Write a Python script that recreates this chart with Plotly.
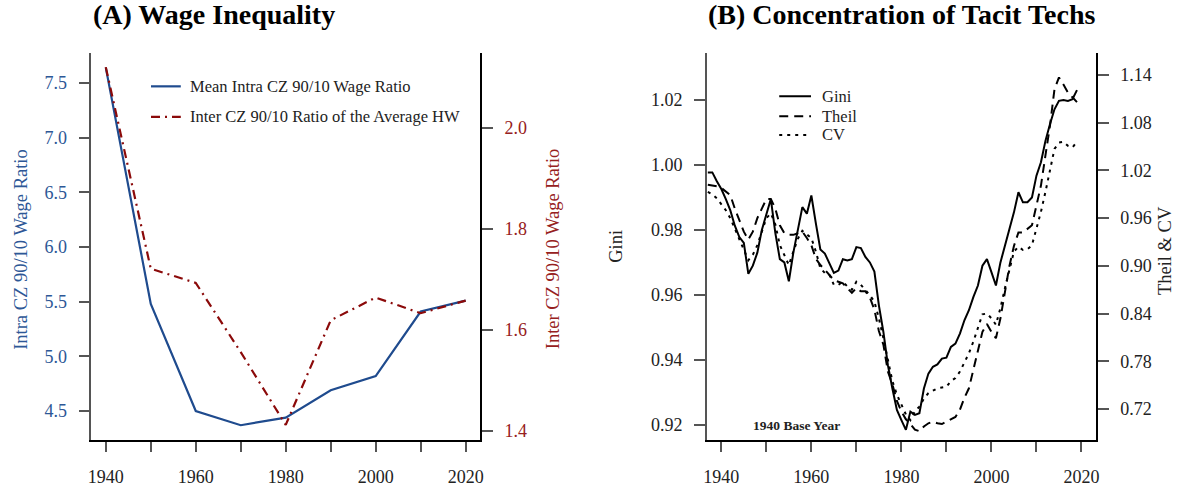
import plotly.graph_objects as go

# ---------------- Data ----------------
decades = [1940, 1950, 1960, 1970, 1980, 1990, 2000, 2010, 2020]
intra_cz = [7.64, 5.48, 4.50, 4.37, 4.44, 4.69, 4.82, 5.41, 5.51]
inter_cz = [2.12, 1.721, 1.693, 1.556, 1.412, 1.619, 1.664, 1.633, 1.658]

years = list(range(1937, 2020))
gini = [0.9977, 0.9977, 0.9950, 0.9926, 0.9895, 0.9860, 0.9813, 0.9778, 0.9760, 0.9665,
        0.9690, 0.9730, 0.9800, 0.9850, 0.9895, 0.9790, 0.9710, 0.9700, 0.9642, 0.9730,
        0.9800, 0.9870, 0.9850, 0.9906, 0.9820, 0.9740, 0.9727, 0.9700, 0.9668, 0.9675,
        0.9710, 0.9706, 0.9710, 0.9747, 0.9744, 0.9717, 0.9700, 0.9672, 0.9568, 0.9486,
        0.9384, 0.9312, 0.9246, 0.9215, 0.9185, 0.9241, 0.9231, 0.9236, 0.9312, 0.9358,
        0.9379, 0.9386, 0.9404, 0.9407, 0.9440, 0.9450, 0.9481, 0.9522, 0.9553, 0.9594,
        0.9629, 0.9690, 0.9710, 0.9670, 0.9629, 0.9700, 0.9756, 0.9803, 0.9854, 0.9916,
        0.9885, 0.9885, 0.9900, 0.9967, 1.0008, 1.0074, 1.0125, 1.0171, 1.0197, 1.0200,
        1.0197, 1.0202, 1.0230]
theil = [1.002, 1.001, 1.000, 0.998, 0.994, 0.989, 0.972, 0.958, 0.943, 0.933,
         0.943, 0.960, 0.972, 0.984, 0.984, 0.972, 0.951, 0.941, 0.939, 0.939,
         0.941, 0.943, 0.935, 0.926, 0.909, 0.901, 0.895, 0.889, 0.882, 0.880,
         0.878, 0.872, 0.866, 0.872, 0.868, 0.868, 0.860, 0.845, 0.818, 0.801,
         0.767, 0.751, 0.730, 0.717, 0.707, 0.701, 0.694, 0.692, 0.698, 0.702,
         0.704, 0.702, 0.701, 0.704, 0.707, 0.710, 0.719, 0.734, 0.746, 0.771,
         0.794, 0.817, 0.827, 0.817, 0.809, 0.834, 0.867, 0.900, 0.925, 0.942,
         0.942, 0.946, 0.951, 0.976, 1.001, 1.039, 1.076, 1.122, 1.137, 1.128,
         1.118, 1.112, 1.106]
cv = [0.993, 0.990, 0.985, 0.978, 0.970, 0.960, 0.947, 0.935, 0.922, 0.907,
      0.914, 0.926, 0.943, 0.960, 0.966, 0.952, 0.926, 0.914, 0.901, 0.918,
      0.934, 0.944, 0.940, 0.935, 0.918, 0.897, 0.891, 0.889, 0.876, 0.876,
      0.880, 0.874, 0.870, 0.880, 0.876, 0.870, 0.863, 0.855, 0.834, 0.809,
      0.780, 0.755, 0.738, 0.725, 0.713, 0.706, 0.717, 0.723, 0.733, 0.740,
      0.743, 0.746, 0.747, 0.748, 0.755, 0.759, 0.767, 0.778, 0.790, 0.805,
      0.822, 0.839, 0.840, 0.834, 0.826, 0.847, 0.872, 0.897, 0.918, 0.924,
      0.920, 0.921, 0.926, 0.947, 0.968, 0.993, 1.022, 1.047, 1.055, 1.056,
      1.051, 1.049, 1.056]

x_tickvals = [1940, 1950, 1960, 1970, 1980, 1990, 2000, 2010, 2020]
x_ticktext = ["1940", "", "1960", "", "1980", "", "2000", "", "2020"]
a_left_ticks = [4.5, 5.0, 5.5, 6.0, 6.5, 7.0, 7.5]
a_right_ticks = [1.4, 1.6, 1.8, 2.0]
b_left_ticks = [0.92, 0.94, 0.96, 0.98, 1.00, 1.02]
b_right_ticks = [0.72, 0.78, 0.84, 0.90, 0.96, 1.02, 1.08, 1.14]

# ---------------- Style ----------------
W, H = 1184, 487
FONT = "Liberation Serif"
BLUE = "#1f4b8e"
BLUE_TXT = "#2d5796"
RED = "#8b0a0a"
RED_TXT = "#962020"
AXC = "#555555"

def px(x):
    return x / W

def py(y):
    return (H - y) / H

ydom = [py(441.7), py(53)]
a_dom = [px(88), px(479.3)]
b_dom = [px(707.7), px(1099.3)]
xr = [1936.8, 2023.2]

fig = go.Figure()

fig.add_trace(go.Scatter(x=decades, y=intra_cz, mode="lines", xaxis="x", yaxis="y",
                         line=dict(color=BLUE, width=2.2), showlegend=False))
fig.add_trace(go.Scatter(x=decades, y=inter_cz, mode="lines", xaxis="x", yaxis="y2",
                         line=dict(color=RED, width=2.2, dash="9px,5px,2px,5px"), showlegend=False))

fig.add_trace(go.Scatter(x=years, y=gini, mode="lines", xaxis="x2", yaxis="y3",
                         line=dict(color="black", width=2), showlegend=False))
fig.add_trace(go.Scatter(x=years, y=theil, mode="lines", xaxis="x2", yaxis="y4",
                         line=dict(color="black", width=2, dash="9px,6px"), showlegend=False))
fig.add_trace(go.Scatter(x=years, y=cv, mode="lines", xaxis="x2", yaxis="y4",
                         line=dict(color="black", width=2, dash="3px,5px"), showlegend=False))

tickfont = dict(family=FONT, size=18, color="#222222")

xcommon = dict(range=xr, tickmode="array", tickvals=x_tickvals, ticktext=x_ticktext,
               showline=True, linecolor="black", linewidth=1.5, ticks="outside",
               ticklen=10, tickwidth=1.5, tickcolor=AXC, showgrid=False, zeroline=False,
               tickfont=tickfont, ticklabelstandoff=10, fixedrange=True)
ycommon = dict(showline=True, linecolor=AXC, linewidth=1.5, ticks="outside", ticklen=11,
               tickwidth=1.5, tickcolor=AXC, showgrid=False, zeroline=False,
               ticklabelstandoff=8, fixedrange=True)

fig.update_layout(
    width=W, height=H,
    margin=dict(l=0, r=0, t=0, b=0),
    paper_bgcolor="white", plot_bgcolor="white",
    font=dict(family=FONT, size=18, color="#222222"),
    xaxis=dict(domain=a_dom, anchor="y", **xcommon),
    yaxis=dict(domain=ydom, range=[4.236, 7.776], tickmode="array", tickvals=a_left_ticks,
               ticktext=[f"{v:.1f}" for v in a_left_ticks],
               tickfont=dict(family=FONT, size=18, color=BLUE_TXT), anchor="x", **ycommon),
    yaxis2=dict(domain=ydom, range=[1.3823, 2.1484], overlaying="y", side="right", anchor="x",
                tickmode="array", tickvals=a_right_ticks,
                ticktext=[f"{v:.1f}" for v in a_right_ticks],
                tickfont=dict(family=FONT, size=18, color=RED_TXT), **ycommon),
    xaxis2=dict(domain=b_dom, anchor="y3", **xcommon),
    yaxis3=dict(domain=ydom, range=[0.9154, 1.0345], anchor="x2", tickmode="array",
                tickvals=b_left_ticks, ticktext=[f"{v:.2f}" for v in b_left_ticks],
                tickfont=tickfont, **ycommon),
    yaxis4=dict(domain=ydom, range=[0.6811, 1.168], overlaying="y3", side="right", anchor="x2",
                tickmode="array", tickvals=b_right_ticks,
                ticktext=[f"{v:.2f}" for v in b_right_ticks],
                tickfont=tickfont, **ycommon),
)
fig.update_layout(yaxis4=dict(linecolor="black"), yaxis2=dict(linecolor="black"))

ann = []
# Titles
ann.append(dict(text="<b>(A) Wage Inequality</b>", x=px(88), y=py(15), xref="paper", yref="paper",
                xanchor="left", yanchor="middle", showarrow=False,
                font=dict(family=FONT, size=28, color="black")))
ann.append(dict(text="<b>(B) Concentration of Tacit Techs</b>", x=px(707), y=py(15), xref="paper",
                yref="paper", xanchor="left", yanchor="middle", showarrow=False,
                font=dict(family=FONT, size=28, color="black")))
# Axis titles
ann.append(dict(text="Intra CZ 90/10 Wage Ratio", x=px(17), y=py(250), xref="paper", yref="paper",
                textangle=-90, showarrow=False, xanchor="center", yanchor="middle",
                font=dict(family=FONT, size=18.5, color=BLUE_TXT)))
ann.append(dict(text="Inter CZ 90/10 Wage Ratio", x=px(553), y=py(250), xref="paper", yref="paper",
                textangle=-90, showarrow=False, xanchor="center", yanchor="middle",
                font=dict(family=FONT, size=18.5, color=RED_TXT)))
ann.append(dict(text="Gini", x=px(616), y=py(247), xref="paper", yref="paper",
                textangle=-90, showarrow=False, xanchor="center", yanchor="middle",
                font=dict(family=FONT, size=18.5, color="#222222")))
ann.append(dict(text="Theil & CV", x=px(1169), y=py(252), xref="paper", yref="paper",
                textangle=-90, showarrow=False, xanchor="center", yanchor="middle",
                font=dict(family=FONT, size=18.5, color="#222222")))
# Base year note
ann.append(dict(text="<b>1940 Base Year</b>", x=px(798), y=py(427), xref="paper", yref="paper",
                showarrow=False, xanchor="center", yanchor="middle",
                font=dict(family=FONT, size=13.5, color="#222222")))

# Legends (manual)
shapes = []
leg_a = [("Mean Intra CZ 90/10 Wage Ratio", 86.7, BLUE, "solid", 2.2),
         ("Inter CZ 90/10 Ratio of the Average HW", 117.3, RED, "9px,5px,2px,5px", 2.2)]
for label, yy, col, dash, w in leg_a:
    shapes.append(dict(type="line", xref="paper", yref="paper", x0=px(148), x1=px(178),
                       y0=py(yy), y1=py(yy), line=dict(color=col, width=w, dash=dash)))
    ann.append(dict(text=label, x=px(185), y=py(yy), xref="paper", yref="paper",
                    xanchor="left", yanchor="middle", showarrow=False,
                    font=dict(family=FONT, size=16.5, color="#222222")))
leg_b = [("Gini", 96.7, "solid"), ("Theil", 116.7, "9px,6px"), ("CV", 135.5, "3px,5px")]
for label, yy, dash in leg_b:
    shapes.append(dict(type="line", xref="paper", yref="paper", x0=px(780.5), x1=px(812.5),
                       y0=py(yy), y1=py(yy), line=dict(color="black", width=2, dash=dash)))
    ann.append(dict(text=label, x=px(822), y=py(yy), xref="paper", yref="paper",
                    xanchor="left", yanchor="middle", showarrow=False,
                    font=dict(family=FONT, size=16.5, color="#222222")))

fig.update_layout(annotations=ann, shapes=shapes)
fig.write_html("out.html")
